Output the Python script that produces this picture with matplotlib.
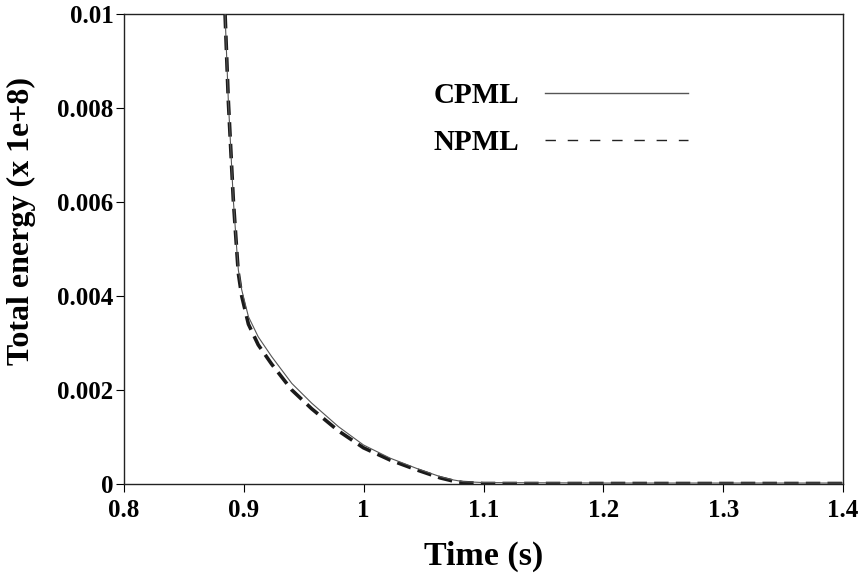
import matplotlib
import numpy as np
import matplotlib.pyplot as plt
from matplotlib.lines import Line2D

matplotlib.use('Agg')

plt.rcParams['font.family'] = ['Liberation Serif', 'DejaVu Serif']
plt.rcParams['font.weight'] = 'bold'

# values (energy in units of 1e+8)
t_cpml = [0.8843, 0.887, 0.8912, 0.8941, 0.8954, 0.8982, 0.9038, 0.912, 0.9232, 0.940, 0.9566,
          0.9789, 0.9998, 1.022, 1.0443, 1.0638, 1.075, 1.083, 1.1, 1.2, 1.3, 1.4]
e_cpml = [0.0100, 0.00817, 0.00604, 0.00498, 0.00455, 0.00413, 0.00356, 0.00313, 0.00271, 0.00214, 0.00172,
          0.00122, 0.00083, 0.00055, 0.00033, 0.000156, 0.000085, 0.00005, 0.00003, 0.00002, 0.00002, 0.00002]

t_npml = [0.8843, 0.887, 0.8912, 0.8941, 0.8954, 0.8982, 0.9038, 0.912, 0.9232, 0.940, 0.9566,
          0.9789, 0.9998, 1.022, 1.0443, 1.0638, 1.075, 1.083, 1.1, 1.2, 1.3, 1.4]
e_npml = [0.0100, 0.00817, 0.00604, 0.00495, 0.00448, 0.00400, 0.00340, 0.00296, 0.00255, 0.00200, 0.00160,
          0.00113, 0.00077, 0.00051, 0.00030, 0.00013, 0.00006, 0.00003, 0.00001, 0.00001, 0.00001, 0.00001]

x_ticks = [0.8, 0.9, 1.0, 1.1, 1.2, 1.3, 1.4]
x_labels = ['0.8', '0.9', '1', '1.1', '1.2', '1.3', '1.4']
y_ticks = [0, 0.002, 0.004, 0.006, 0.008, 0.01]
y_labels = ['0', '0.002', '0.004', '0.006', '0.008', '0.01']

fig = plt.figure(figsize=(8.62, 5.75), dpi=100)
ax = fig.add_axes([0.1439, 0.1583, 0.978 - 0.1439, 0.9757 - 0.1583])

ax.plot(t_cpml, e_cpml, color='#555555', lw=0.8, zorder=3)
ax.plot(t_npml, e_npml, color='#1a1a1a', lw=2.6, dashes=(4, 2.0), zorder=2)

ax.set_xlim(0.8, 1.4)
ax.set_ylim(0, 0.01)
ax.set_xticks(x_ticks)
ax.set_xticklabels(x_labels)
ax.set_yticks(y_ticks)
ax.set_yticklabels(y_labels)
ax.tick_params(labelsize=18, direction='out', length=6, width=0.8)
ax.tick_params(axis='x', pad=5)
ax.tick_params(axis='y', pad=1.5)
for sp in ax.spines.values():
    sp.set_linewidth(1.0)
    sp.set_color('#222222')

ax.set_xlabel('Time (s)', fontsize=24.5, fontweight='bold')
ax.xaxis.set_label_coords(0.5, -0.121)
ax.set_ylabel('Total energy (x 1e+8)', fontsize=23, fontweight='bold')
ax.yaxis.set_label_coords(-0.122, 0.56)

handles = [Line2D([], [], color='#555555', lw=1.0),
           Line2D([], [], color='#222222', lw=1.0, dashes=(7.5, 8.5))]
ax.legend(handles, ['CPML', 'NPML'], markerfirst=False, frameon=False,
          prop={'size': 21, 'weight': 'bold'}, handlelength=4.9, handletextpad=0.9,
          labelspacing=0.69, loc='upper left', bbox_to_anchor=(0.394, 0.911))

fig.savefig('out.png', dpi=100)
